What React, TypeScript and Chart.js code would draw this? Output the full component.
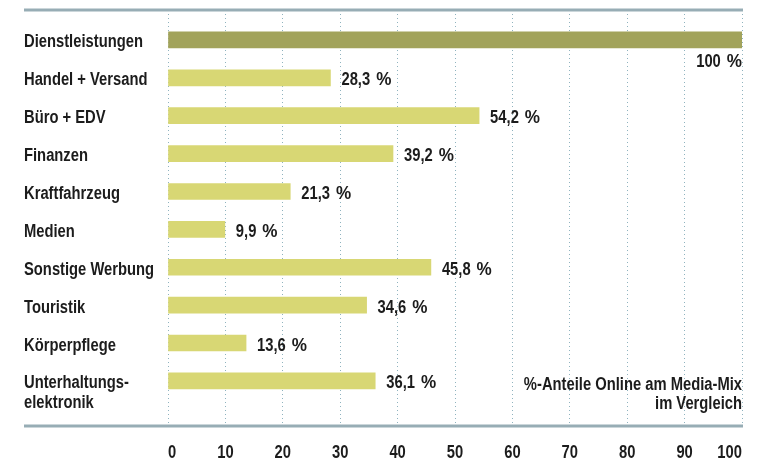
import React, { useEffect, useRef } from "react";
import { Chart, registerables } from "chart.js";

Chart.register(...registerables);

const categories: string[][] = [
  ["Dienstleistungen"],
  ["Handel + Versand"],
  ["Büro + EDV"],
  ["Finanzen"],
  ["Kraftfahrzeug"],
  ["Medien"],
  ["Sonstige Werbung"],
  ["Touristik"],
  ["Körperpflege"],
  ["Unterhaltungs-", "elektronik"],
];
const values = [100, 28.3, 54.2, 39.2, 21.3, 9.9, 45.8, 34.6, 13.6, 36.1];
const valueLabels = ["100", "28,3", "54,2", "39,2", "21,3", "9,9", "45,8", "34,6", "13,6", "36,1"];
const unit = "%";
const xTicks = [0, 10, 20, 30, 40, 50, 60, 70, 80, 90, 100];
const noteLines = ["%-Anteile Online am Media-Mix", "im Vergleich"];

const FONT = "'Liberation Sans', Arial, sans-serif";
const TEXT = "#1c1c1c";
const SX = 0.82; // horizontal condensing of the label font
const CAP = 6.5; // half cap height at 18px
const GAP = 6;
const PSX = 0.95;

function txt(ctx: CanvasRenderingContext2D, s: string, x: number, yCenter: number, align: CanvasTextAlign, sx = SX) {
  ctx.save();
  ctx.translate(x, yCenter + CAP);
  ctx.scale(sx, 1);
  ctx.textAlign = align;
  ctx.textBaseline = "alphabetic";
  ctx.fillText(s, 0, 0);
  ctx.restore();
}

function pctWidth(ctx: CanvasRenderingContext2D, num: string) {
  return ctx.measureText(num).width * SX + GAP + ctx.measureText(unit).width * PSX;
}

// number + spaced percent sign, left edge at x
function pct(ctx: CanvasRenderingContext2D, num: string, x: number, y: number) {
  const w = ctx.measureText(num).width * SX;
  txt(ctx, num, x, y, "left");
  txt(ctx, unit, x + w + GAP, y, "left", PSX);
}

export default function App() {
  const ref = useRef<HTMLCanvasElement | null>(null);
  useEffect(() => {
    if (!ref.current) return;
    const textPlugin = {
      id: "texts",
      afterDatasetsDraw(chart: any) {
        const { ctx, chartArea } = chart;
        const xs = chart.scales.x;
        const ys = chart.scales.y;
        ctx.save();
        ctx.strokeStyle = "#97adb5";
        ctx.lineWidth = 3;
        [chartArea.top, chartArea.bottom].forEach((y: number) => {
          ctx.beginPath();
          ctx.moveTo(24, y);
          ctx.lineTo(chartArea.right + 1, y);
          ctx.stroke();
        });
        ctx.fillStyle = TEXT;
        ctx.font = `bold 18px ${FONT}`;
        // category labels
        categories.forEach((lines, i) => {
          const y = ys.getPixelForValue(i);
          lines.forEach((l, k) => txt(ctx, l, ys.left, y + 1 + k * 20, "left"));
        });
        // x tick labels
        xTicks.forEach((v, i) => {
          const x = xs.getPixelForValue(v);
          const align: CanvasTextAlign = i === 0 ? "left" : i === xTicks.length - 1 ? "right" : "center";
          txt(ctx, String(v), x, 451, align);
        });
        // value labels
        const meta = chart.getDatasetMeta(0);
        meta.data.forEach((bar: any, i: number) => {
          if (values[i] >= 100) {
            pct(ctx, valueLabels[i], chartArea.right - pctWidth(ctx, valueLabels[i]), bar.y + 21);
          } else {
            pct(ctx, valueLabels[i], bar.x + 11, bar.y + 1);
          }
        });
        // note
        noteLines.forEach((t, i) => txt(ctx, t, chartArea.right, 383 + i * 19, "right"));
        ctx.restore();
      },
    };
    const chart = new Chart(ref.current, {
      type: "bar",
      data: {
        datasets: [
          {
            data: values.map((v, i) => ({ x: v, y: i })),
            backgroundColor: values.map((v, i) => (i === 0 ? "#a2a35b" : "#d8d774")),
            barThickness: 16,
          },
        ],
      },
      options: {
        indexAxis: "y",
        responsive: false,
        animation: false,
        layout: { padding: { top: 10, left: 24, right: 23, bottom: 0 } },
        plugins: { legend: { display: false }, tooltip: { enabled: false } },
        scales: {
          x: {
            type: "linear",
            min: 0,
            max: 100,
            offset: false,
            afterBuildTicks: (axis: any) => {
              axis.ticks = xTicks.map((v) => ({ value: v }));
            },
            afterFit: (axis: any) => {
              axis.height = 33;
            },
            grid: { color: "#8fb3bf", lineWidth: 1, drawTicks: false },
            border: { display: false, dash: [1, 3] },
            ticks: { display: false },
          },
          y: {
            type: "linear",
            reverse: true,
            offset: false,
            min: -0.79,
            max: 10.19,
            afterBuildTicks: (axis: any) => {
              axis.ticks = categories.map((_, i) => ({ value: i }));
            },
            afterFit: (axis: any) => {
              axis.width = 144;
            },
            grid: { display: false },
            border: { display: false },
            ticks: { display: false },
          },
        },
      },
      plugins: [textPlugin],
    } as any);
    return () => chart.destroy();
  }, []);
  return (
    <div style={{ position: "absolute", left: 0, top: 0, width: 765, height: 459, background: "#fff" }}>
      <canvas ref={ref} width={765} height={459} />
    </div>
  );
}
